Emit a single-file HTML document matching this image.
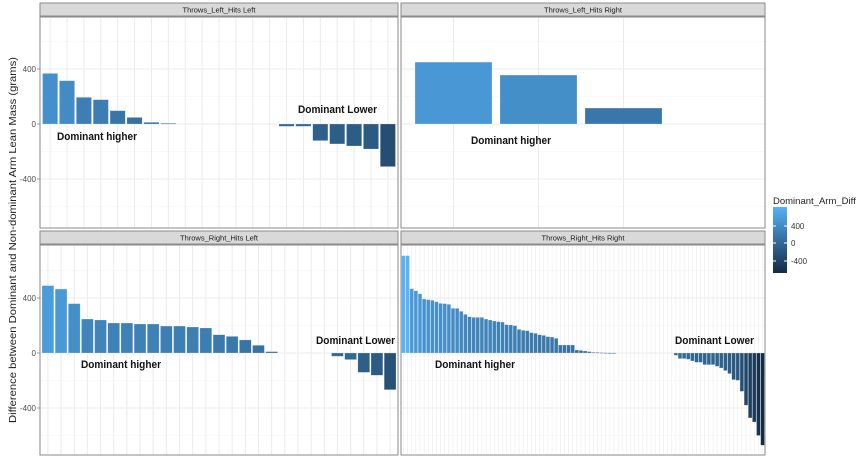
<!DOCTYPE html><html><head><meta charset="utf-8"><style>body{margin:0;background:#fff}svg{display:block;font-family:"Liberation Sans",sans-serif}</style></head><body>
<svg id="s" width="864" height="468" xmlns="http://www.w3.org/2000/svg"></svg>
<script>
var s=document.getElementById('s'),h='';
function col(v){var t=(v+671)/(708+671);t=Math.max(0,Math.min(1,t));var a=[19,43,67],b=[86,177,247];return 'rgb('+a.map((x,i)=>Math.round(x+(b[i]-x)*t)).join(',')+')';}
var k=55/400;
function panel(x0,x1,y0,zero,title,n,bars,left,fixed){
 var ys=y0+14,ye=ys+(y0<100?211:210);
 h+='<rect x="'+x0+'" y="'+y0+'" width="'+(x1-x0)+'" height="13" fill="#d9d9d9" stroke="#8a8a8a" stroke-width="1"/>';
 h+='<text x="'+((x0+x1)/2)+'" y="'+(y0+9.5)+'" font-size="7.5" fill="#1a1a1a" text-anchor="middle">'+title+'</text>';
 h+='<rect x="'+x0+'" y="'+ys+'" width="'+(x1-x0)+'" height="'+(ye-ys)+'" fill="#fff"/>';
 [-600,-200,200,600].forEach(v=>{var y=zero-v*k;h+='<line x1="'+x0+'" x2="'+x1+'" y1="'+y+'" y2="'+y+'" stroke="#f4f4f4" stroke-width="0.6"/>';});
 [-400,0,400].forEach(v=>{var y=zero-v*k;h+='<line x1="'+x0+'" x2="'+x1+'" y1="'+y+'" y2="'+y+'" stroke="#ebebeb" stroke-width="1"/>';
  if(left)h+='<text x="36" y="'+(y+3)+'" font-size="8" fill="#4d4d4d" text-anchor="end">'+v+'</text><line x1="37" x2="40" y1="'+y+'" y2="'+y+'" stroke="#333" stroke-width="0.5"/>';});
 if(fixed){fixed.forEach(b=>{h+='<line x1="'+b[0]+'" x2="'+b[0]+'" y1="'+ys+'" y2="'+ye+'" stroke="#ebebeb"/>';});
  fixed.forEach(b=>{var v=b[2],y=zero-v*k;h+='<rect x="'+(b[0]-b[1]/2)+'" y="'+Math.min(y,zero)+'" width="'+b[1]+'" height="'+Math.abs(v*k)+'" fill="'+col(v)+'" stroke="#fff" stroke-opacity="0.4" stroke-width="0.5"/>';});}
 else{var w=(x1-x0)/(n+0.2),c0=x0+w*0.6;
  for(var i=0;i<n;i++){var cx=c0+i*w;h+='<line x1="'+cx+'" x2="'+cx+'" y1="'+ys+'" y2="'+ye+'" stroke="#ebebeb" stroke-width="'+(n>50?0.6:1)+'"/>';}
  bars.forEach((v,i)=>{if(v==null)return;var cx=c0+i*w,y=zero-v*k;h+='<rect x="'+(cx-w*0.45)+'" y="'+Math.min(y,zero)+'" width="'+(w*0.9)+'" height="'+Math.max(0.8,Math.abs(v*k))+'" fill="'+col(v)+'" stroke="#fff" stroke-opacity="0.4" stroke-width="0.5"/>';});}
 h+='<rect x="'+x0+'" y="'+ys+'" width="'+(x1-x0)+'" height="'+(ye-ys)+'" fill="none" stroke="#8a8a8a" stroke-width="1"/>';
}
function gaps(p,g,nn){var a=p.slice();for(var i=0;i<g;i++)a.push(null);return a.concat(nn);}
var tl=gaps([368,315,194,177,97,48,12,5],6,[-17,-17,-121,-145,-160,-182,-310]);
panel(40,398,3,124,'Throws_Left_Hits Left',21,tl,true);
panel(401,765,3,124,'Throws_Left_Hits Right',0,null,false,[[453.5,77,450],[538.5,77,356],[623.5,77,116]]);
var bl=gaps([490,465,359,247,240,218,218,211,211,196,196,189,182,133,121,95,56,10],4,[-24,-48,-141,-162,-267]);
panel(40,398,231,353,'Throws_Right_Hits Left',27,bl,true);
var pos=[708,708,468,453,431,393,388,383,373,361,359,354,325,325,303,281,264,259,259,259,247,240,233,228,225,206,204,199,172,165,162,148,143,133,128,119,116,107,58,58,58,58,22,19,15,10,5,4,3,2,1,1];
var neg=[-17,-41,-41,-46,-58,-68,-68,-85,-85,-85,-97,-109,-128,-150,-194,-199,-279,-380,-472,-502,-600,-671];
panel(401,765,231,353,'Throws_Right_Hits Right',88,gaps(pos,14,neg),false);
function lab(x,y,t,w,fs){h+='<text x="'+x+'" y="'+y+'" font-size="'+fs+'" font-weight="bold" fill="#111" textLength="'+w+'" lengthAdjust="spacingAndGlyphs">'+t+'</text>';}
lab(57,140,'Dominant higher',80,11);lab(298,113,'Dominant Lower',79,11);lab(471,144,'Dominant higher',80,11);
lab(81,368,'Dominant higher',80,11);lab(316,344,'Dominant Lower',79,11);lab(435,368,'Dominant higher',80,11);lab(675,344,'Dominant Lower',79,11);
h+='<text transform="translate(16,240) rotate(-90)" font-size="10.5" fill="#222" text-anchor="middle" textLength="366" lengthAdjust="spacingAndGlyphs">Difference between Dominant and Non-dominant Arm Lean Mass (grams)</text>';
h+='<text x="773" y="204" font-size="9.5" fill="#222">Dominant_Arm_Diff</text>';
h+='<defs><linearGradient id="g" x1="0" y1="1" x2="0" y2="0"><stop offset="0" stop-color="#132B43"/><stop offset="1" stop-color="#56B1F7"/></linearGradient></defs>';
h+='<rect x="773" y="207" width="14" height="66" fill="url(#g)"/>';
[[400,226],[0,243],[-400,261]].forEach(a=>{h+='<line x1="773" x2="776" y1="'+a[1]+'" y2="'+a[1]+'" stroke="#fff"/><line x1="784" x2="787" y1="'+a[1]+'" y2="'+a[1]+'" stroke="#fff"/><text x="791" y="'+(a[1]+3)+'" font-size="8" fill="#333">'+a[0]+'</text>';});
s.innerHTML=h;
</script></body></html>
